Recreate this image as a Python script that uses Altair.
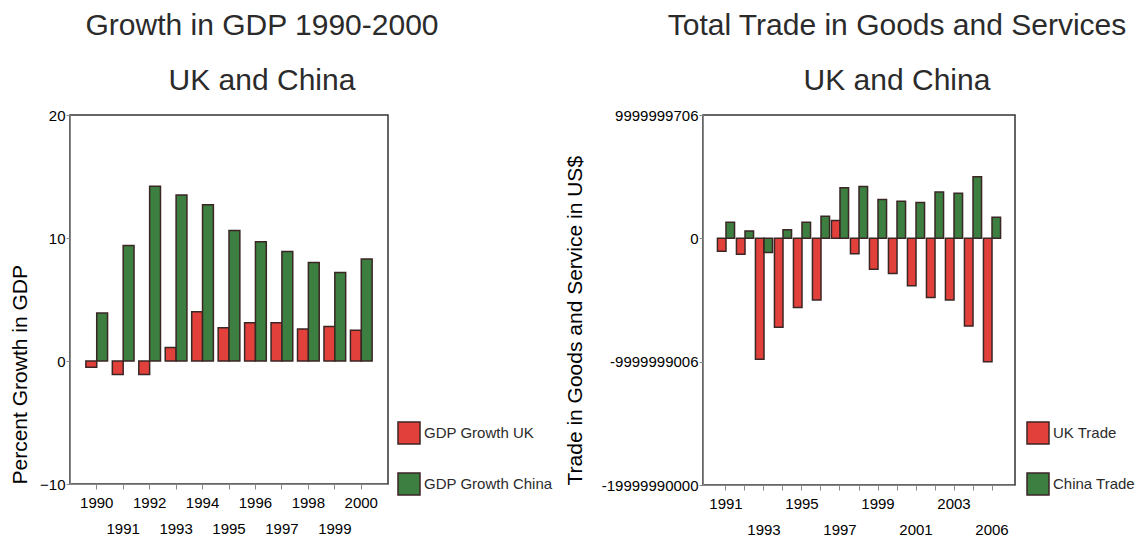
import altair as alt
import pandas as pd

# ---------------- data ----------------
years_gdp = ["1990", "1991", "1992", "1993", "1994", "1995", "1996",
             "1997", "1998", "1999", "2000"]
gdp_series = ["GDP Growth UK", "GDP Growth China"]
uk_gdp = [-0.5, -1.1, -1.1, 1.1, 4.0, 2.7, 3.1, 3.1, 2.6, 2.8, 2.5]
china_gdp = [3.9, 9.4, 14.2, 13.5, 12.7, 10.6, 9.7, 8.9, 8.0, 7.2, 8.3]

years_trade = ["1991", "1992", "1993", "1994", "1995", "1996", "1997", "1998",
               "1999", "2000", "2001", "2002", "2003", "2004", "2006"]
trade_series = ["UK Trade", "China Trade"]
uk_trade = [-1.05e9, -1.3e9, -9.8e9, -7.2e9, -5.6e9, -5.0e9, 1.45e9, -1.25e9,
            -2.5e9, -2.85e9, -3.85e9, -4.8e9, -5.0e9, -7.1e9, -10.0e9]
china_trade = [1.3e9, 0.6e9, -1.15e9, 0.7e9, 1.3e9, 1.8e9, 4.1e9, 4.2e9,
               3.15e9, 3.0e9, 2.9e9, 3.75e9, 3.65e9, 5.0e9, 1.7e9]

trade_ticks = [-2e10, -1e10, 0, 1e10]
trade_tick_labels = ["-19999990000", "-9999999006", "0", "9999999706"]
trade_row1 = ["1991", "1995", "1999", "2003"]
trade_row2 = ["1993", "1997", "2001", "2006"]

RED = "#E2413B"
GREEN = "#3D7E41"
EDGE = "#3a2624"
FONT = "Liberation Sans"
INK = "#2b2b2b"
FRAME = "#333333"

gdp_df = pd.DataFrame({
    "Year": years_gdp * 2,
    "Series": [gdp_series[0]] * len(years_gdp) + [gdp_series[1]] * len(years_gdp),
    "Value": uk_gdp + china_gdp,
})
trade_df = pd.DataFrame({
    "Year": years_trade * 2,
    "Partner": [trade_series[0]] * len(years_trade) + [trade_series[1]] * len(years_trade),
    "Trade": uk_trade + china_trade,
})

def legend(x, y):
    return alt.Legend(title=None, orient="none", legendX=x, legendY=y,
                      symbolType="square", symbolSize=484,
                      symbolStrokeColor=EDGE, symbolStrokeWidth=1.5,
                      labelFontSize=15, labelOffset=3, rowPadding=23,
                      padding=0, labelLimit=300, labelColor=INK, labelFont=FONT)

view = alt.ViewBackground(stroke=FRAME, strokeWidth=1.5, fill="white")

left_label_expr = "toNumber(datum.value) % 2 == 1 ? ['', datum.label] : datum.label"
left = alt.Chart(gdp_df).mark_bar(stroke=EDGE, strokeWidth=1.5).encode(
    x=alt.X("Year:N", sort=years_gdp,
            scale=alt.Scale(paddingInner=0.18, paddingOuter=0.6),
            axis=alt.Axis(title=None, labelAngle=0, labelExpr=left_label_expr,
                          tickSize=5, labelPadding=6, labelLineHeight=26,
                          labelFontSize=15, labelOverlap=False)),
    xOffset=alt.XOffset("Series:N", sort=gdp_series,
                        scale=alt.Scale(domain=gdp_series, paddingInner=0, paddingOuter=0)),
    y=alt.Y("Value:Q", scale=alt.Scale(domain=[-10, 20], nice=False, zero=False),
            axis=alt.Axis(values=[-10, 0, 10, 20], title="Percent Growth in GDP",
                          grid=False, tickSize=4, labelPadding=1, labelFontSize=15,
                          titleFontSize=21, titleFontWeight="normal",
                          titleAnchor="start", titlePadding=9)),
    color=alt.Color("Series:N", sort=gdp_series,
                    scale=alt.Scale(domain=gdp_series, range=[RED, GREEN]),
                    legend=legend(327, 306)),
).properties(
    width=318, height=369, view=view,
    title=alt.TitleParams(text=["Growth in GDP 1990-2000", "UK and China"],
                          fontSize=30, fontWeight="normal", lineHeight=55,
                          anchor="middle", dx=33, offset=12, color=INK, font=FONT),
)

right_y_expr = "".join(
    f"datum.value == {v:.0f} ? '{l}' : " for v, l in zip(trade_ticks, trade_tick_labels)
) + "''"
right_x_expr = (
    f"indexof({trade_row1}, datum.value) >= 0 ? datum.label : "
    f"(indexof({trade_row2}, datum.value) >= 0 ? ['', datum.label] : '')"
)

right = alt.Chart(trade_df).mark_bar(stroke=EDGE, strokeWidth=1.5).encode(
    x=alt.X("Year:N", sort=years_trade,
            scale=alt.Scale(paddingInner=0.1, paddingOuter=0.76),
            axis=alt.Axis(title=None, labelAngle=0, labelExpr=right_x_expr,
                          tickSize=5, labelPadding=6, labelLineHeight=26,
                          labelFontSize=15, labelOverlap=False)),
    xOffset=alt.XOffset("Partner:N", sort=trade_series,
                        scale=alt.Scale(domain=trade_series, paddingInner=0, paddingOuter=0)),
    y=alt.Y("Trade:Q", scale=alt.Scale(domain=[-2e10, 1e10], nice=False, zero=False),
            axis=alt.Axis(values=trade_ticks, labelExpr=right_y_expr,
                          title="Trade in Goods and Service in US$",
                          grid=False, tickSize=4, labelPadding=1, labelFontSize=15,
                          titleFontSize=21, titleFontWeight="normal",
                          titleAnchor="start", titlePadding=16)),
    color=alt.Color("Partner:N", sort=trade_series,
                    scale=alt.Scale(domain=trade_series, range=[RED, GREEN]),
                    legend=legend(323, 306)),
).properties(
    width=312, height=370, view=view,
    title=alt.TitleParams(text=["Total Trade in Goods and Services", "UK and China"],
                          fontSize=30, fontWeight="normal", lineHeight=55,
                          anchor="middle", dx=38, offset=12, color=INK, font=FONT),
)

chart = alt.hconcat(left, right, spacing=9).resolve_scale(
    x="independent", y="independent", color="independent", xOffset="independent"
).properties(
    padding={"left": 0, "top": 2, "right": 0, "bottom": 0}
).configure_view(
    stroke=FRAME, strokeWidth=1.5
).configure_axis(
    domainColor=FRAME, tickColor=FRAME, labelColor=INK, titleColor=INK,
    labelFont=FONT, titleFont=FONT, domainWidth=1.5
).configure(background="white")

chart.save("out.html", embed_options={"renderer": "svg", "actions": False})
